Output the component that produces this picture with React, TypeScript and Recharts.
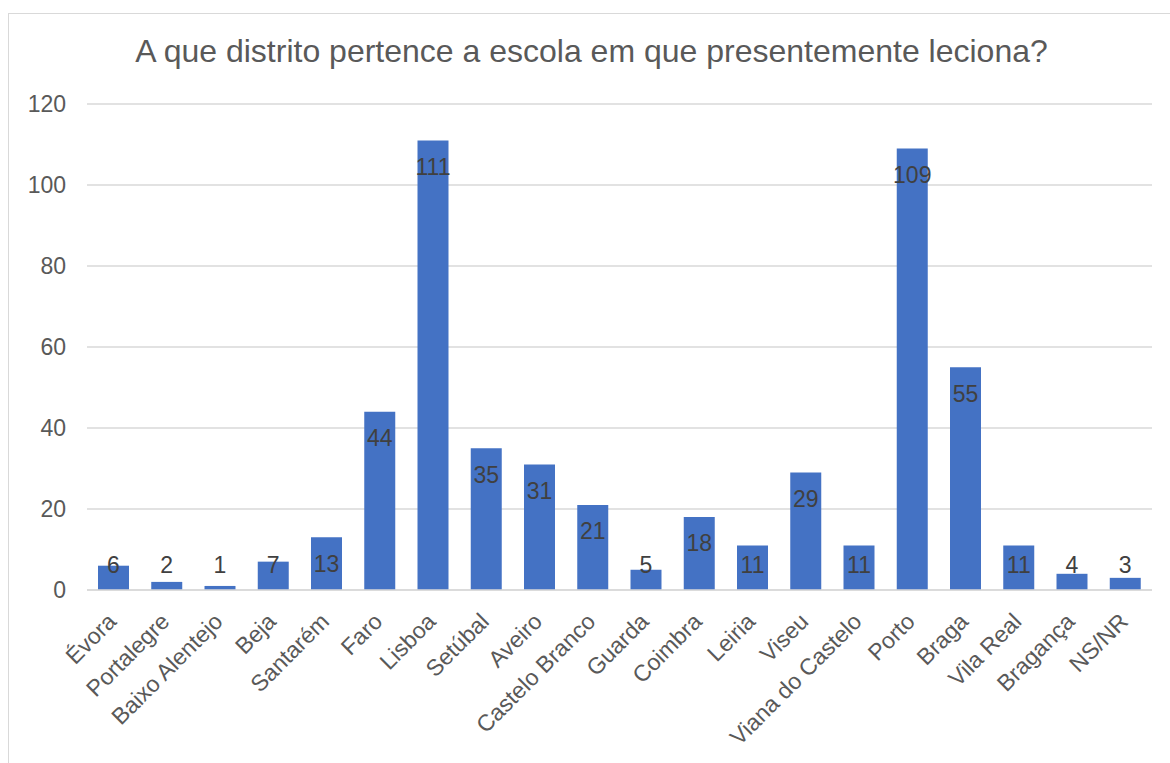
import { BarChart, Bar, XAxis, YAxis, CartesianGrid, LabelList } from 'recharts';

const districts = [
  'Évora', 'Portalegre', 'Baixo Alentejo', 'Beja', 'Santarém', 'Faro', 'Lisboa',
  'Setúbal', 'Aveiro', 'Castelo Branco', 'Guarda', 'Coimbra', 'Leiria', 'Viseu',
  'Viana do Castelo', 'Porto', 'Braga', 'Vila Real', 'Bragança', 'NS/NR',
];
const counts = [6, 2, 1, 7, 13, 44, 111, 35, 31, 21, 5, 18, 11, 29, 11, 109, 55, 11, 4, 3];
const yTicks = [0, 20, 40, 60, 80, 100, 120];
const title = 'A que distrito pertence a escola em que presentemente leciona?';

const data = districts.map((name, i) => ({ name, v: counts[i] }));

const FONT = '"Liberation Sans", Arial, sans-serif';
const GREY = '#595959';
const GRID = '#d9d9d9';

function CategoryTick(props: any) {
  const { x, y, payload } = props;
  const ax = x + 4;
  const ay = y + 25;
  return (
    <text
      x={ax}
      y={ay}
      textAnchor="end"
      transform={`rotate(-45, ${ax}, ${ay})`}
      fontSize={23}
      fontFamily={FONT}
      fill={GREY}
    >
      {payload.value}
    </text>
  );
}

// Excel "inside end" labels: sit below the bar top, but never drop under the axis
function ValueLabel(props: any) {
  const { x, y, width, height, value } = props;
  const cy = Math.min(y + 26, y + height - 25);
  return (
    <text
      x={x + width / 2}
      y={cy}
      dy="0.36em"
      textAnchor="middle"
      fontSize={23}
      fontFamily={FONT}
      fill="#404040"
    >
      {value}
    </text>
  );
}

export default function App() {
  return (
    <div style={{ position: 'absolute', left: 0, top: 0, width: 1170, height: 763, overflow: 'hidden', background: '#fff' }}>
      <div
        style={{
          position: 'absolute', left: 8, top: 13, width: 1200, height: 800,
          border: `1.5px solid ${GRID}`, boxSizing: 'border-box',
        }}
      />
      <div
        style={{
          position: 'absolute', left: 0, top: 35, width: 1183, textAlign: 'center',
          fontFamily: FONT, fontSize: 32, lineHeight: '32px', color: GREY, whiteSpace: 'nowrap',
        }}
      >
        {title}
      </div>
      <div style={{ position: 'absolute', left: 0, top: 0 }}>
        <BarChart width={1170} height={763} data={data} margin={{ top: 104, right: 18, bottom: 0, left: 0 }}>
          <CartesianGrid vertical={false} stroke={GRID} strokeWidth={1.4} />
          <YAxis
            domain={[0, 120]}
            ticks={yTicks}
            width={87}
            axisLine={false}
            tickLine={false}
            tickMargin={15}
            tick={{ fontSize: 23, fill: GREY, fontFamily: FONT }}
          />
          <XAxis
            dataKey="name"
            interval={0}
            height={173}
            tickLine={false}
            axisLine={{ stroke: GRID, strokeWidth: 1.4 }}
            tick={<CategoryTick />}
          />
          <Bar dataKey="v" fill="#4472c4" barSize={31} isAnimationActive={false}>
            <LabelList dataKey="v" content={<ValueLabel />} />
          </Bar>
        </BarChart>
      </div>
    </div>
  );
}
